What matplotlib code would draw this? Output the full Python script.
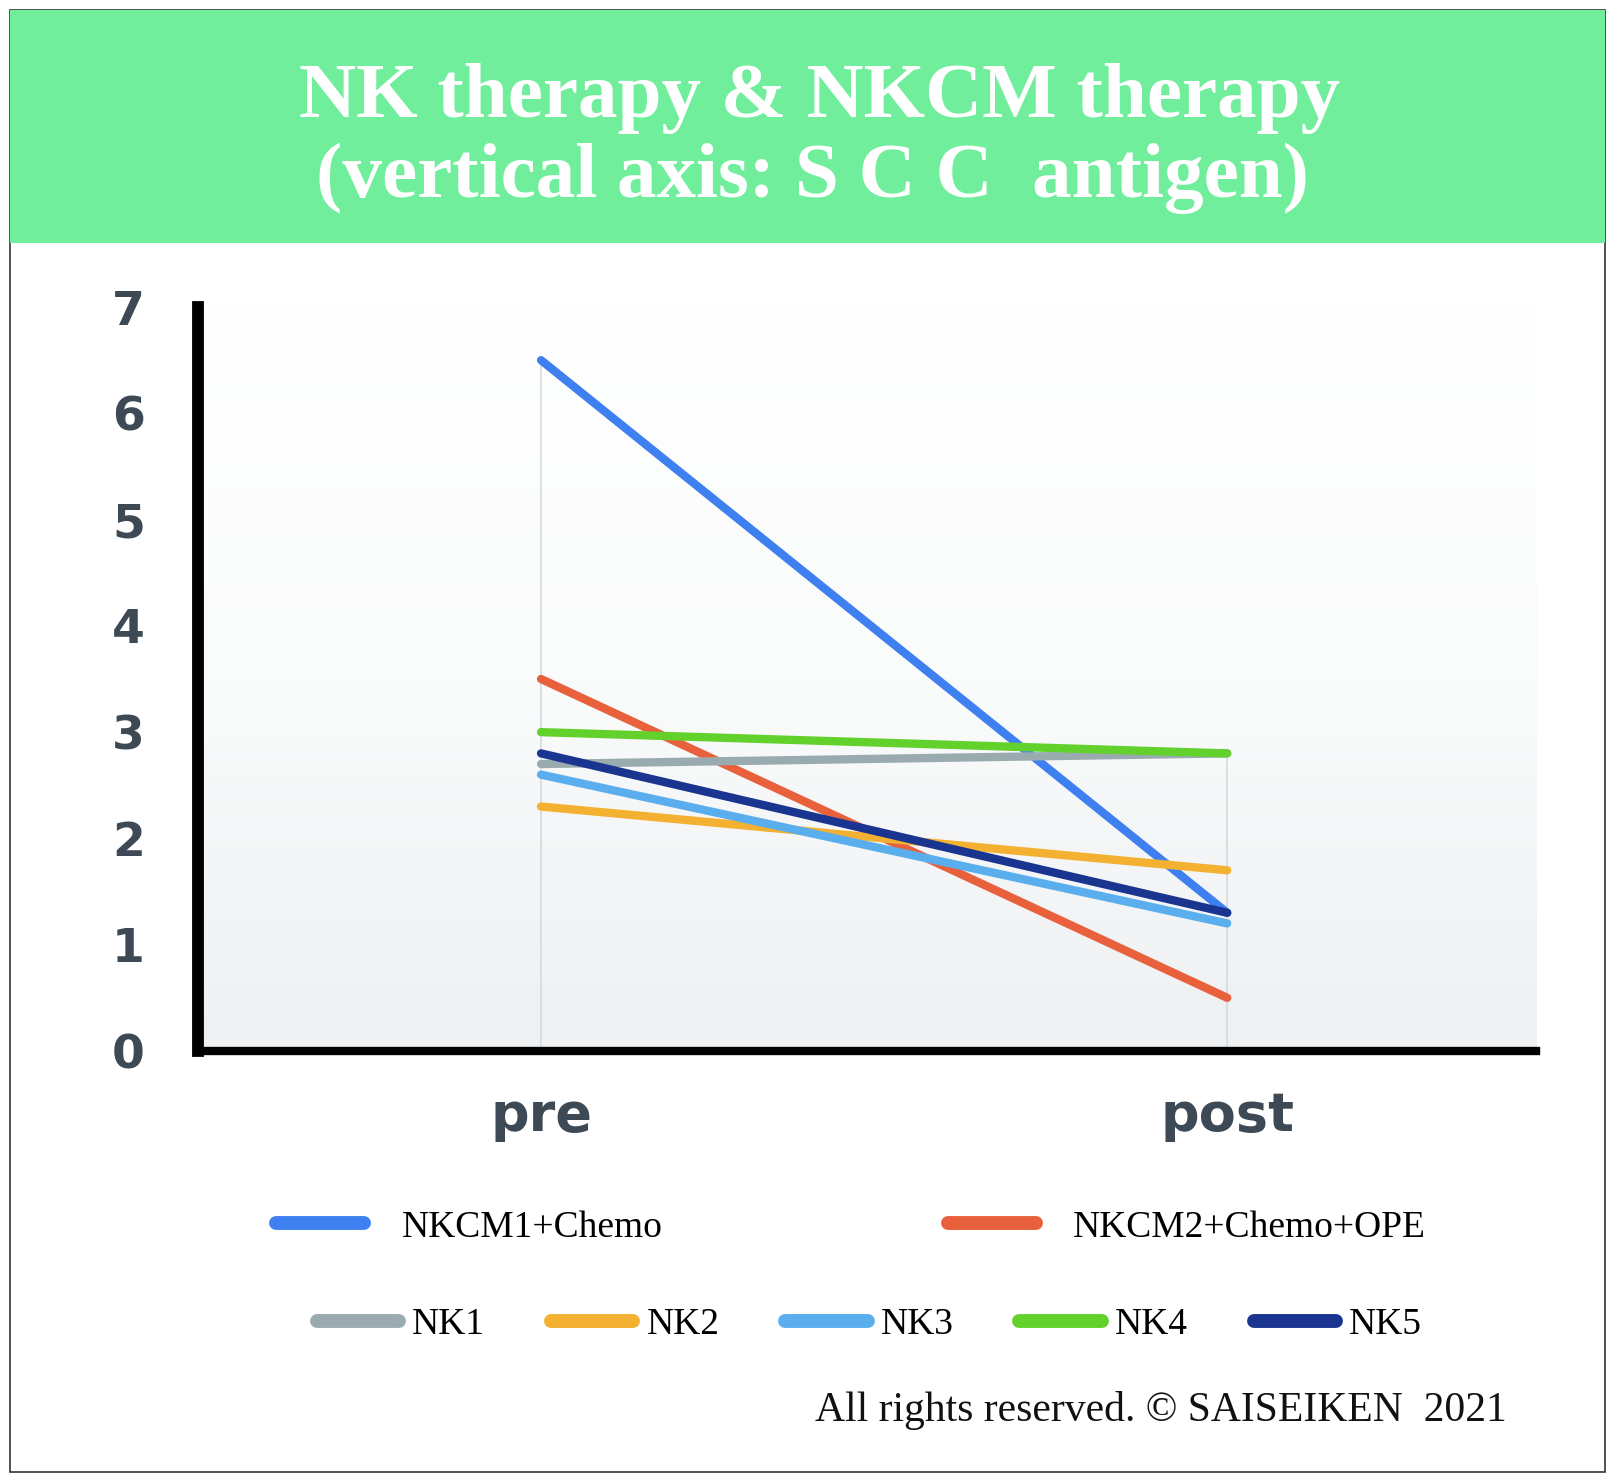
import numpy as np
import matplotlib
matplotlib.use("Agg")
import matplotlib.pyplot as plt
from matplotlib.patches import Rectangle

# SCC antigen, pre / post treatment
stages = ["pre", "post"]
series_names = ["NKCM1+Chemo", "NKCM2+Chemo+OPE", "NK1", "NK2", "NK3", "NK4", "NK5"]
nkcm1 = [6.5, 1.3]
nkcm2 = [3.5, 0.5]
nk1 = [2.7, 2.8]
nk2 = [2.3, 1.7]
nk3 = [2.6, 1.2]
nk4 = [3.0, 2.8]
nk5 = [2.8, 1.3]
colors = ["#3f80f0", "#e8613c", "#9aabb0", "#f4b030", "#5aaeee", "#62d12c", "#1a3590"]
yticks = [0, 1, 2, 3, 4, 5, 6, 7]

all_series = [nkcm1, nkcm2, nk1, nk2, nk3, nk4, nk5]

fig = plt.figure(figsize=(16.16, 14.84), dpi=100)
fig.patch.set_facecolor("white")

# outer frame and green title band
fig.patches.append(Rectangle((10 / 1616, 1 - 1472 / 1484), 1595 / 1616, 1462 / 1484,
                             transform=fig.transFigure, fill=False, ec="#333333", lw=1.2))
fig.patches.append(Rectangle((10 / 1616, 1 - 243 / 1484), 1595 / 1616, 233 / 1484,
                             transform=fig.transFigure, fc="#70ee9c", ec="none"))
fig.text(0.507, 1 - 99 / 1484, "NK therapy & NKCM therapy", color="white",
         fontsize=57, fontweight="bold", family="Liberation Serif", ha="center", va="center")
fig.text(0.503, 1 - 178 / 1484, "(vertical axis: S C C  antigen)", color="white",
         fontsize=57, fontweight="bold", family="Liberation Serif", ha="center", va="center")

ax = fig.add_axes([0.1225, 0.2918, 0.828, 0.5013])
x = np.arange(len(stages))

# background gradient
grad = np.linspace(0, 1, 256).reshape(-1, 1)
ax.imshow(grad, extent=[-0.5, 1.45, 0, 7], aspect="auto", origin="lower",
          cmap=matplotlib.colors.LinearSegmentedColormap.from_list(
              "bg", ["#eef0f2", "#fafbfb", "#ffffff"]), zorder=0)

# thin guide lines at each stage
tops = np.max(np.array(all_series), axis=0)
ax.vlines(x, 0, tops, color="#d3dbe0", lw=1.2, zorder=1)

handles = []
for vals, name, c in zip(all_series, series_names, colors):
    h, = ax.plot(x, vals, color=c, lw=6, solid_capstyle="round", label=name, zorder=3)
    handles.append(h)

ax.set_xlim(-0.5, 1.45)
ax.set_ylim(0, 7)
ax.set_yticks(yticks)
ax.set_xticks(x)
ax.set_xticklabels(stages)
ax.tick_params(length=0, colors="#3d4a55")
ax.tick_params(axis="y", pad=50, labelsize=34)
ax.tick_params(axis="x", pad=28, labelsize=39)
for lab in ax.get_yticklabels() + ax.get_xticklabels():
    lab.set_fontweight("heavy")
for lab in ax.get_yticklabels():
    lab.set_horizontalalignment("center")
for s in ["top", "right"]:
    ax.spines[s].set_visible(False)
ax.spines["left"].set_linewidth(8.5)
ax.spines["bottom"].set_linewidth(6)
for s in ["left", "bottom"]:
    ax.spines[s].set_color("black")

leg_font = {"family": "Liberation Serif", "size": 27}
leg1 = fig.legend(handles[:2], series_names[:2], ncol=2, loc="center left",
                  bbox_to_anchor=(0.15, 0.173), frameon=False, prop=leg_font,
                  handlelength=2.35, handletextpad=1.0, columnspacing=7.6)
leg2 = fig.legend(handles[2:], series_names[2:], ncol=5, loc="center left",
                  bbox_to_anchor=(0.175, 0.107), frameon=False, prop=leg_font,
                  handlelength=2.2, handletextpad=0.35, columnspacing=1.75)
for lg in (leg1, leg2):
    for ln in lg.get_lines():
        ln.set_linewidth(10)
        ln.set_solid_capstyle("round")

fig.text(0.9325, 1 - 1411 / 1484, "All rights reserved. \u00a9 SAISEIKEN  2021",
         fontsize=30, family="Liberation Serif", ha="right", va="center", color="#111111")

fig.savefig("out.png", dpi=100)
